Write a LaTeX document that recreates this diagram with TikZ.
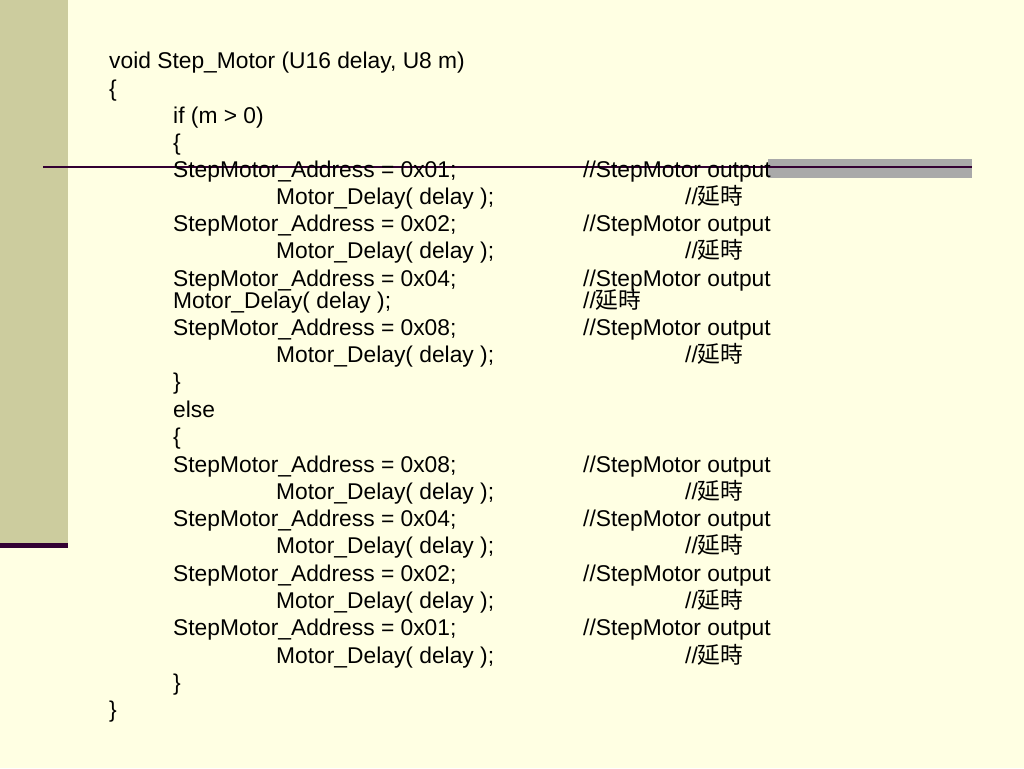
\documentclass[tikz,border=0pt]{standalone}
\usepackage{fontspec}
\setmainfont{Liberation Sans}
\newfontfamily\cjk{Noto Sans CJK TC}
\definecolor{slidebg}{HTML}{FFFFE3}
\definecolor{sideband}{HTML}{CCCC9E}
\definecolor{darkrule}{HTML}{330033}
\definecolor{greybar}{HTML}{A9A9A9}
\tikzset{code/.style={anchor=base west,inner sep=0pt,font=\fontsize{22.8}{27}\selectfont}}
\begin{document}
\begin{tikzpicture}[x=1pt,y=-1pt] % fond de la diapositive
\fill [slidebg] (0,0) rectangle (1024,768);
\fill [sideband] (0,0) rectangle (68,543);
\fill [darkrule] (0,543) rectangle (68,548);
\fill [greybar] (768,159) rectangle (972,178);
\coordinate (ruleL) at (43,167);
\coordinate (ruleR) at (972,167);
\draw [darkrule,line width=2pt] (ruleL) -- (ruleR);

\node[code] (head) at (109,68) {void Step\_Motor (U16 delay, U8 m)};
\node[code] (open) at (109,96) {\{};
\node[code] (if) at (173,123) {if (m > 0)};
\node[code] (openif) at (173,150) {\{};
\node[code] (closeif) at (173,389) {\}};
\node[code] (else) at (173,417) {else};
\node[code] (openelse) at (173,444) {\{};
\node[code] (closeelse) at (173,690) {\}};
\node[code] (close) at (109,717) {\}};

\foreach \n/\y/\v in {1/177/01,2/231/02,3/286/04,4/335/08,5/472/08,6/526/04,7/581/02,8/635/01}
    {\node[code] (sa\n) at (173,\y) {StepMotor\_Address = 0x\v;};
     \node[code] (sac\n) at (583,\y) {//StepMotor output};}

\foreach \n/\y in {1/204,2/258,4/362,5/499,6/553,7/608,8/663}
    {\node[code] (md\n) at (276,\y) {Motor\_Delay( delay );};
     \node[code] (mdc\n) at (685,\y) {//{\cjk 延時}};}
\node[code] (md3) at (173,308) {Motor\_Delay( delay );};
\node[code] (mdc3) at (583,308) {//{\cjk 延時}};
\end{tikzpicture}
\end{document}
